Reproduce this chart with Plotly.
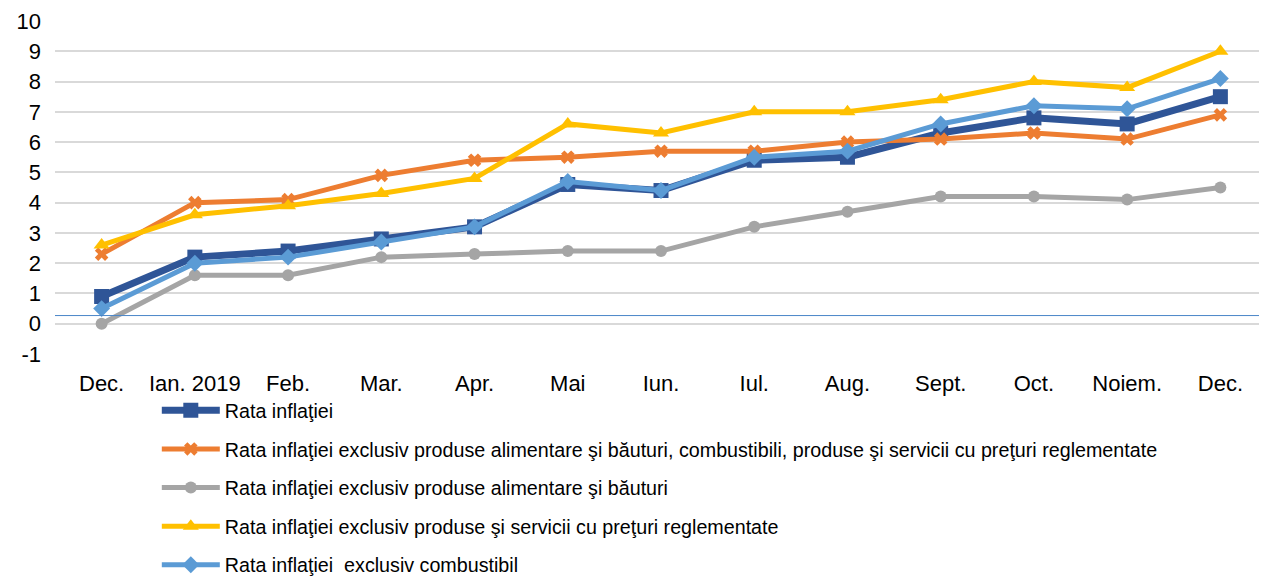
import plotly.graph_objects as go

categories = ["Dec.", "Ian. 2019", "Feb.", "Mar.", "Apr.", "Mai", "Iun.", "Iul.", "Aug.", "Sept.", "Oct.", "Noiem.", "Dec."]

rata_inflatiei = [0.9, 2.2, 2.4, 2.8, 3.2, 4.6, 4.4, 5.4, 5.5, 6.3, 6.8, 6.6, 7.5]
excl_alim_comb_regl = [2.3, 4.0, 4.1, 4.9, 5.4, 5.5, 5.7, 5.7, 6.0, 6.1, 6.3, 6.1, 6.9]
excl_alim = [0.0, 1.6, 1.6, 2.2, 2.3, 2.4, 2.4, 3.2, 3.7, 4.2, 4.2, 4.1, 4.5]
excl_regl = [2.6, 3.6, 3.9, 4.3, 4.8, 6.6, 6.3, 7.0, 7.0, 7.4, 8.0, 7.8, 9.0]
excl_comb = [0.5, 2.0, 2.2, 2.7, 3.2, 4.7, 4.4, 5.5, 5.7, 6.6, 7.2, 7.1, 8.1]

series_names = [
    "Rata inflaţiei",
    "Rata inflaţiei exclusiv produse alimentare şi băuturi, combustibili, produse şi servicii cu preţuri reglementate",
    "Rata inflaţiei exclusiv produse alimentare şi băuturi",
    "Rata inflaţiei exclusiv produse şi servicii cu preţuri reglementate",
    "Rata inflaţiei\u00a0 exclusiv combustibil",
]
y_ticks = list(range(-1, 11))
y_tick_text = [str(v) for v in y_ticks]
ref_line_value = 0.27

x = list(range(len(categories)))
styles = [
    dict(color="#2F5597", width=7, symbol="square", size=15),
    dict(color="#ED7D31", width=5, symbol="x", size=12),
    dict(color="#A5A5A5", width=5, symbol="circle", size=12),
    dict(color="#FFC000", width=5, symbol="triangle-up", size=14),
    dict(color="#5B9BD5", width=5, symbol="diamond", size=13),
]
data = [rata_inflatiei, excl_alim_comb_regl, excl_alim, excl_regl, excl_comb]

fig = go.Figure()
for i, (name, vals, st) in enumerate(zip(series_names, data, styles)):
    fig.add_trace(go.Scatter(
        x=x, y=vals, name=name, mode="lines+markers",
        legendgroup=f"g{i}",
        line=dict(color=st["color"], width=st["width"]),
        marker=dict(symbol=st["symbol"], size=st["size"], color=st["color"],
                    line=dict(width=0)),
    ))

fig.add_shape(type="line", xref="paper", yref="y", x0=0, x1=1,
              y0=ref_line_value, y1=ref_line_value,
              line=dict(color="#4A86C8", width=1))

# page body adds an 8px offset, so the figure is sized to fit the window
W, H = 1259, 571
font_family = "Liberation Sans, Arial, sans-serif"
fig.update_layout(
    width=W, height=H,
    margin=dict(l=47, r=0, t=13, b=225, autoexpand=False),
    plot_bgcolor="white", paper_bgcolor="white",
    font=dict(family=font_family, size=22, color="#000000"),
    showlegend=True,
    legend=dict(
        orientation="v", x=0.084, xref="paper",
        y=1 - 383 / H, yref="container", xanchor="left", yanchor="top",
        font=dict(size=19.7, color="#000000"), tracegroupgap=10,
        itemwidth=58, bgcolor="rgba(0,0,0,0)",
    ),
    xaxis=dict(
        tickmode="array", tickvals=x, ticktext=categories,
        range=[-0.5, len(categories) - 0.5],
        showgrid=False, zeroline=False, showline=False,
        ticks="", ticklabelstandoff=14, automargin=False,
    ),
    yaxis=dict(
        range=[-1, 10], tickmode="array", tickvals=y_ticks, ticktext=y_tick_text,
        showgrid=True, gridcolor="#D9D9D9", gridwidth=1.5,
        zeroline=False, showline=False, ticks="", ticklabelstandoff=13,
        automargin=False,
    ),
)

fig.write_html("out.html")
